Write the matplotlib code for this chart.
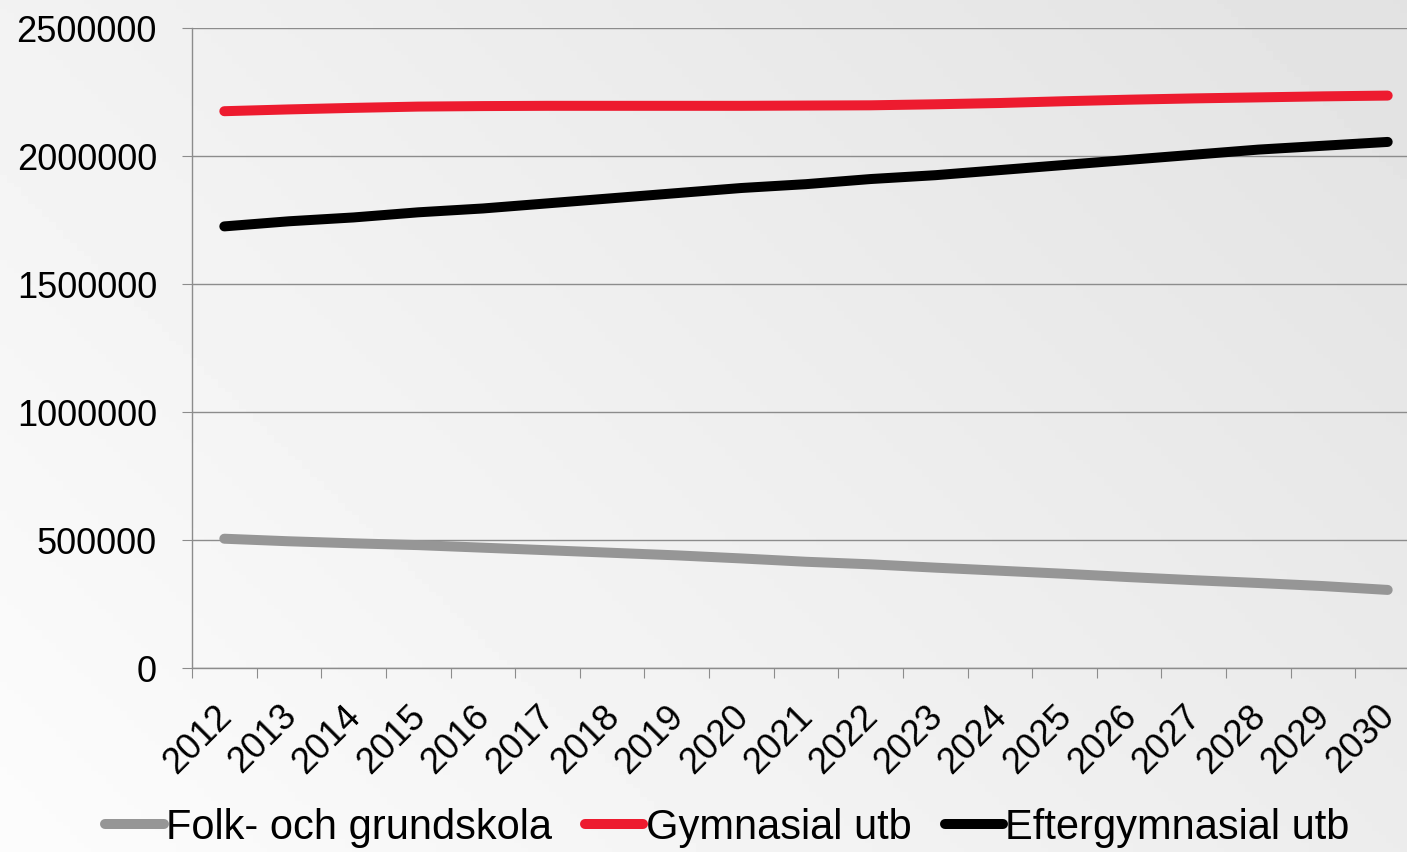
import numpy as np
import matplotlib
matplotlib.use("Agg")
import matplotlib.pyplot as plt
from matplotlib.ticker import FuncFormatter

plt.rcParams['font.family'] = ['Liberation Sans', 'DejaVu Sans']

years = list(range(2012, 2031))
folk = [505000, 495000, 487000, 480000, 470000, 460000, 450000, 440000, 428000, 415000,
        405000, 392000, 380000, 368000, 355000, 343000, 332000, 320000, 305000]
gymn = [2175000, 2182000, 2188000, 2193000, 2195000, 2196000, 2196000, 2196000, 2196000, 2197000,
        2198000, 2202000, 2207000, 2214000, 2220000, 2225000, 2229000, 2233000, 2236000]
efter = [1725000, 1745000, 1760000, 1780000, 1795000, 1815000, 1835000, 1855000, 1875000, 1890000,
         1910000, 1925000, 1945000, 1965000, 1985000, 2005000, 2025000, 2040000, 2055000]
labels = ["Folk- och grundskola", "Gymnasial utb", "Eftergymnasial utb"]
colors = ["#969696", "#ED1B2F", "#000000"]

W, H = 1407, 852
fig = plt.figure(figsize=(W / 100, H / 100), dpi=100)

# bakgrund: diagonal gradient vit -> ljusgrå
bg = fig.add_axes([0, 0, 1, 1], zorder=-10)
gx, gy = np.meshgrid(np.linspace(0, 1, 200), np.linspace(1, 0, 200))
grad = 252 - 16 * gx - 10 * gy
bg.imshow(grad, cmap="gray", vmin=0, vmax=255, aspect="auto", extent=[0, 1, 0, 1])
bg.axis("off")

ax = fig.add_axes([192 / W, 1 - 668 / H, (1420 - 192) / W, 640 / H])
ax.patch.set_alpha(0)

x = np.arange(len(years))
for vals, lab, col in zip([folk, gymn, efter], labels, colors):
    ax.plot(x, vals, color=col, lw=7.2, solid_capstyle="round", label=lab, zorder=3)

ax.set_xlim(-0.5, len(years) - 0.5)
ax.set_ylim(0, 2500000)
ax.set_yticks(np.arange(0, 2500001, 500000))
ax.yaxis.set_major_formatter(FuncFormatter(lambda v, p: f"{int(v)}"))
ax.yaxis.grid(True, color="#8c8c8c", lw=1)
ax.set_axisbelow(True)

# kategorigränser som tickmarks, etiketter lite till höger om mitten
ax.set_xticks(np.arange(-0.5, len(years), 1.0))
ax.set_xticklabels([])
ax.set_xticks(x + 0.22, minor=True)
ax.set_xticklabels([str(y) for y in years], minor=True, rotation=45, ha="right", va="top",
                   fontsize=26)
ax.tick_params(axis="x", which="minor", length=0, pad=22)
ax.tick_params(axis="x", which="major", length=7.2, color="#8c8c8c", direction="out")
ax.tick_params(axis="y", length=7.2, color="#8c8c8c", labelsize=26, pad=18)

for s in ["top", "right"]:
    ax.spines[s].set_visible(False)
for s in ["left", "bottom"]:
    ax.spines[s].set_color("#8c8c8c")
    ax.spines[s].set_linewidth(1)

fig.legend(loc="center", bbox_to_anchor=(0.517, 1 - 828 / H), ncol=3, frameon=False,
           fontsize=30, handlelength=1.4, handletextpad=0.05, columnspacing=0.8)

fig.savefig("out.png", dpi=100)
